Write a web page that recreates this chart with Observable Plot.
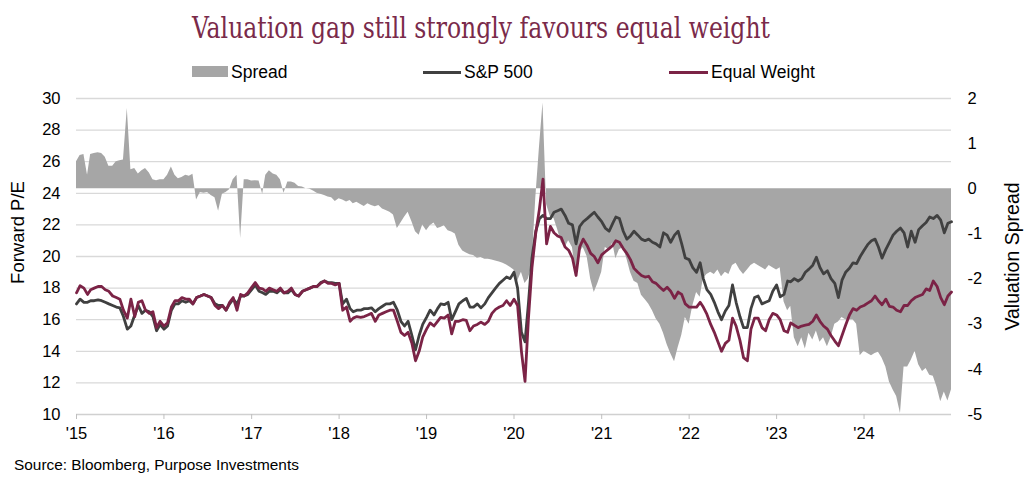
<!DOCTYPE html>
<html><head><meta charset="utf-8">
<script src="https://cdn.jsdelivr.net/npm/d3@7"></script>
<script src="https://cdn.jsdelivr.net/npm/@observablehq/plot@0.6"></script>
<style>
html,body{margin:0;padding:0;background:#fff;}
body{width:1024px;height:485px;overflow:hidden;font-family:"Liberation Sans",Arial,sans-serif;}
#head{position:relative;height:85px;}
#title{position:absolute;left:192px;top:11px;font-family:"DejaVu Serif Condensed","DejaVu Serif",serif;font-size:29px;line-height:34px;color:#7a2a4a;white-space:nowrap;transform-origin:0 0;}
.lg{position:absolute;top:62px;height:20px;font-size:17.5px;line-height:20px;color:#000;white-space:nowrap;}
.sw{position:absolute;}
#foot{position:relative;height:35px;}
#src{position:absolute;left:14px;top:6px;font-size:15.4px;line-height:18px;color:#000;white-space:nowrap;}
#chart svg{display:block;}
</style></head>
<body>
<div id="head">
  <div id="title">Valuation gap still strongly favours equal weight</div>
  <div class="sw" style="left:192px;top:66px;width:36px;height:11px;background:#a6a6a6"></div>
  <div class="lg" style="left:231px">Spread</div>
  <div class="sw" style="left:423px;top:70.5px;width:38px;height:3px;background:#404040"></div>
  <div class="lg" style="left:464px">S&amp;P 500</div>
  <div class="sw" style="left:669px;top:70.5px;width:39px;height:3px;background:#7b2346"></div>
  <div class="lg" style="left:711px">Equal Weight</div>
</div>
<div id="chart"></div>
<div id="foot"><div id="src">Source: Bloomberg, Purpose Investments</div></div>
<script>
// Semi-monthly readings (1st and 16th of each month), 2015-01-01 .. 2024-12-16, plus 2024-12-31
const spx = [
  17.0,17.3,17.1,17.1,17.2,17.2,17.25,17.2,17.1,17.0,16.9,16.8,16.75,16.2,15.4,15.6,16.3,16.9,16.4,16.6,16.5,16.2,15.3,15.7,
  15.4,15.6,16.6,17.0,17.0,17.2,17.1,17.2,17.0,17.4,17.5,17.6,17.5,17.4,17.0,16.9,16.9,16.6,17.0,17.3,17.0,17.5,17.5,17.6,
  17.9,18.2,17.8,17.7,17.6,17.8,17.8,17.7,17.9,17.7,17.7,17.9,17.6,17.5,17.8,17.9,18.0,18.1,18.1,18.35,18.45,18.35,18.35,18.3,
  18.3,17.0,17.3,16.7,16.5,16.6,16.6,16.7,16.7,16.75,16.5,16.7,16.85,17.0,17.0,17.1,16.6,15.9,15.6,15.9,15.0,14.1,15.0,15.7,
  16.15,16.6,16.3,16.7,17.0,16.95,17.1,16.0,16.5,17.0,17.2,17.35,16.8,16.8,17.0,16.75,17.0,17.4,17.7,18.0,18.3,18.5,18.7,18.6,
  19.0,18.0,15.2,14.6,17.0,19.9,21.6,22.4,22.6,22.4,22.4,22.8,22.9,23.0,22.6,22.1,22.0,20.8,21.9,22.2,22.4,22.6,22.8,22.5,
  22.2,21.8,21.6,22.1,22.5,22.4,21.6,21.1,21.3,21.6,21.35,21.1,21.0,21.1,20.9,20.8,20.6,21.5,21.35,20.9,21.35,21.6,20.8,19.9,
  19.8,19.3,19.0,19.6,18.6,17.9,17.6,17.1,16.5,16.0,16.55,16.9,18.2,17.1,16.2,15.5,15.5,16.7,17.4,17.5,17.0,17.1,17.2,17.8,
  18.2,17.45,17.6,18.45,18.4,18.6,18.45,18.6,19.0,19.2,19.45,19.95,19.3,18.9,19.1,18.6,18.3,17.4,18.5,19.0,19.25,19.6,19.55,20.0,
  20.4,20.75,21.0,21.1,20.6,19.9,20.45,20.9,21.35,21.6,21.8,21.5,20.6,21.6,20.9,21.7,21.95,22.15,22.5,22.4,22.6,22.3,21.5,22.1,22.2
];
const equalWeight = [
  17.7,18.15,18.0,17.6,17.9,18.0,18.1,18.1,17.9,17.8,17.5,17.4,17.3,16.6,16.1,17.3,16.2,17.1,17.2,16.6,16.4,16.5,15.5,15.9,
  15.6,15.8,16.8,17.2,17.2,17.4,17.3,17.3,17.0,17.4,17.5,17.6,17.5,17.4,16.9,16.7,16.9,16.6,17.1,17.4,16.6,17.6,17.5,17.7,
  18.05,18.35,18.0,17.95,17.8,18.0,17.9,17.8,18.0,17.7,17.8,18.0,17.6,17.5,17.8,17.9,18.0,18.1,18.1,18.3,18.45,18.3,18.3,18.2,
  18.3,16.6,16.8,15.9,16.1,16.2,16.15,16.2,16.3,16.4,15.9,16.3,16.4,16.5,16.6,16.6,15.9,15.2,15.0,15.2,14.5,13.4,14.0,14.9,
  15.4,15.8,15.6,15.9,16.15,16.1,16.3,15.1,15.9,15.9,16.0,15.95,15.3,15.6,15.7,15.85,15.7,15.9,16.4,16.65,16.8,16.9,17.2,16.9,
  17.3,16.9,14.0,12.1,16.0,19.3,21.5,23.0,24.9,20.8,21.9,21.5,21.3,21.2,20.6,20.4,19.9,18.8,20.6,21.1,20.7,20.2,20.0,19.6,
  20.1,20.3,20.5,20.7,21.0,20.9,20.5,20.2,19.8,19.25,19.0,18.8,18.7,18.75,18.4,18.3,18.05,17.85,18.05,17.8,17.35,17.75,17.6,17.0,
  16.8,16.8,16.8,17.1,16.8,16.35,15.7,15.2,14.6,14.0,14.5,14.7,16.1,15.6,14.7,13.6,13.4,15.4,16.1,16.1,15.5,15.3,16.0,16.4,
  16.3,16.0,15.3,15.2,15.8,15.65,15.5,15.6,15.65,15.7,15.9,16.3,15.9,15.6,15.4,15.0,14.65,14.35,15.0,15.65,16.3,16.7,16.6,16.8,
  16.9,17.05,17.2,17.5,17.2,16.95,17.3,16.85,16.8,16.6,16.5,16.9,16.9,17.2,17.4,17.5,17.6,17.95,17.85,18.45,18.1,17.4,16.95,17.5,17.75
];
const spread = [
  0.6,0.74,0.76,0.3,0.76,0.78,0.8,0.78,0.7,0.5,0.5,0.6,0.62,0.64,1.78,0.42,0.45,0.33,0.4,0.45,0.35,0.2,0.18,0.2,
  0.2,0.3,0.48,0.3,0.22,0.25,0.3,0.28,0.32,-0.25,-0.08,-0.1,-0.08,-0.15,-0.2,-0.5,-0.12,-0.08,-0.02,0.2,0.3,-1.1,0.2,0.2,
  0.17,0.18,0.17,-0.12,0.3,0.4,0.33,0.3,0.2,-0.1,0.15,0.15,0.12,0.05,0.04,0.0,-0.01,-0.05,-0.1,-0.12,-0.15,-0.18,-0.2,-0.28,
  -0.22,-0.25,-0.29,-0.26,-0.33,-0.3,-0.35,-0.39,-0.33,-0.37,-0.4,-0.37,-0.45,-0.48,-0.52,-0.58,-0.88,-0.76,-0.63,-0.52,-0.73,-0.95,-1.03,-0.8,
  -0.93,-0.82,-0.76,-0.88,-0.86,-0.82,-0.93,-0.96,-1.0,-1.25,-1.38,-1.42,-1.46,-1.48,-1.54,-1.52,-1.56,-1.56,-1.58,-1.6,-1.62,-1.65,-1.69,-1.74,
  -1.8,-2.05,-1.85,-2.1,-2.0,-1.7,-0.2,0.9,1.9,-0.35,-0.62,-0.66,-0.9,-1.18,-1.3,-1.15,-1.3,-1.9,-1.4,-1.3,-1.5,-2.0,-2.3,-2.1,
  -1.85,-1.3,-1.35,-1.2,-1.55,-1.35,-1.3,-1.55,-1.85,-2.05,-2.1,-2.36,-2.45,-2.55,-2.7,-2.88,-3.0,-3.2,-3.45,-3.65,-3.83,-3.52,-3.25,-2.85,
  -3.0,-2.6,-2.3,-2.4,-2.0,-1.9,-1.85,-1.9,-1.8,-1.95,-1.85,-1.9,-1.7,-1.65,-1.8,-1.9,-1.8,-1.7,-1.65,-1.7,-1.75,-1.8,-1.7,-1.75,
  -1.8,-1.75,-2.5,-2.7,-2.6,-3.3,-3.5,-3.3,-3.55,-3.2,-3.35,-3.15,-3.4,-3.3,-3.5,-3.3,-3.0,-2.95,-2.85,-2.9,-2.9,-2.9,-3.0,-3.7,
  -3.6,-3.65,-3.7,-3.65,-3.62,-3.75,-3.95,-4.28,-4.45,-4.6,-4.98,-3.95,-3.95,-3.8,-3.6,-3.9,-4.05,-3.98,-4.13,-4.15,-4.4,-4.72,-4.5,-4.7,-4.45
];
const leftTicks = [10, 12, 14, 16, 18, 20, 22, 24, 26, 28, 30];
const rightTicks = [2, 1, 0, -1, -2, -3, -4, -5];
const years = [2015, 2016, 2017, 2018, 2019, 2020, 2021, 2022, 2023, 2024];
const yearLabels = ["'15", "'16", "'17", "'18", "'19", "'20", "'21", "'22", "'23", "'24"];

// date grid
const dates = [];
for (const y of years) for (let h = 0; h < 24; h++) dates.push(new Date(Date.UTC(y, Math.floor(h / 2), h % 2 ? 16 : 1)));
dates.push(new Date(Date.UTC(2024, 11, 31)));

// secondary axis mapping: spread 2..-5 shares the frame with P/E 30..10
const toPE = s => 30 - (2 - s) * (20 / 7);
const base = toPE(0);
const rows = dates.map((d, i) => ({date: d, spx: spx[i], ew: equalWeight[i], spread: toPE(spread[i])}));
const rightMap = new Map(rightTicks.map(s => [toPE(s), String(s)]));
const yearDates = years.map(y => new Date(Date.UTC(y, 0, 1)));

const chart = Plot.plot({
  width: 1024, height: 365,
  marginTop: 13, marginBottom: 36, marginLeft: 76, marginRight: 73,
  style: {fontFamily: '"Liberation Sans", Arial, sans-serif', fontSize: "16px", color: "#000", background: "#fff"},
  x: {type: "utc", domain: [new Date(Date.UTC(2015, 0, 1)), new Date(Date.UTC(2024, 11, 31))]},
  y: {domain: [10, 30]},
  marks: [
    Plot.ruleY(leftTicks.filter(v => v > 10), {stroke: "#d9d9d9", strokeWidth: 1.3}),
    Plot.areaY(rows, {x: "date", y1: base, y2: "spread", fill: "#a6a6a6"}),
    Plot.ruleY([10], {stroke: "#d0d0d0", strokeWidth: 1.3}),
    Plot.lineY(rows, {x: "date", y: "spx", stroke: "#404040", strokeWidth: 2.8}),
    Plot.lineY(rows, {x: "date", y: "ew", stroke: "#7b2346", strokeWidth: 2.8}),
    Plot.axisY(leftTicks, {anchor: "left", tickSize: 0, tickPadding: 16, label: null, fill: "#000", fontSize: 16.5}),
    Plot.axisY(rightTicks.map(toPE), {anchor: "right", tickSize: 0, tickPadding: 16, label: null, fill: "#000", fontSize: 16.5, tickFormat: d => rightMap.get(d)}),
    Plot.axisX(yearDates, {anchor: "bottom", tickSize: 5, tickPadding: 8, stroke: "#bfbfbf", fill: "#000", fontSize: 16.5, label: null,
      tickFormat: d => yearLabels[years.indexOf(d.getUTCFullYear())]}),
    Plot.text(["Forward P/E"], {frameAnchor: "left", dx: -58, dy: -24, rotate: -90, textAnchor: "middle", fontSize: 18.5, fill: "#000"}),
    Plot.text(["Valuation Spread"], {frameAnchor: "right", dx: 61, rotate: -90, textAnchor: "middle", fontSize: 19.5, fill: "#000"})
  ]
});
document.getElementById("chart").appendChild(chart);

const t = document.getElementById("title");
const w = t.getBoundingClientRect().width;
t.style.transform = `scaleX(${578 / w})`;
</script>
</body></html>
